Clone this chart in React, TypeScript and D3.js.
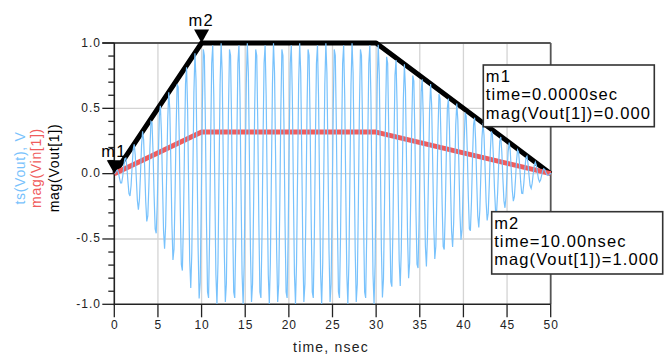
import React from "react";
import * as d3 from "d3";

// ---- data ----
const envTime = [0, 10, 30, 50]; // nsec
const voutMag = [0, 1, 1, 0]; // mag(Vout[1])
const vinMag = [0, 0.318, 0.318, 0]; // mag(Vin[1])
const carrierGHz = 1; // ts(Vout) carrier frequency
const sampleStep = 0.12; // nsec, transient time step

const xTicks = [0, 5, 10, 15, 20, 25, 30, 35, 40, 45, 50];
const yTicks = [-1, -0.5, 0, 0.5, 1];
const yMinor = d3.range(-10, 11).map((i) => i / 10);
const yTickLabels = ["-1.0", "-0.5", "0.0", "0.5", "1.0"];

const markers = [
  { name: "m1", time: 0, value: 0 },
  { name: "m2", time: 10, value: 1 },
];
const m1Lines = ["m1", "time=0.0000sec", "mag(Vout[1])=0.000"];
const m2Lines = ["m2", "time=10.00nsec", "mag(Vout[1])=1.000"];

const W = 665;
const H = 362;
const L = 114.3, R = 550.7, T = 43, B = 304.3;
const FONT = "'Liberation Sans', Arial, sans-serif";
const BLUE = "#78c2fc";
const RED = "#f05c5c";

export default function App() {
  const x = d3.scaleLinear().domain([0, 50]).range([L, R]);
  const y = d3.scaleLinear().domain([-1, 1]).range([B, T]);

  const envV = d3.scaleLinear().domain(envTime).range(voutMag);
  const samples = d3.range(0, 50 + sampleStep / 2, sampleStep).map((t) => ({
    t,
    v: envV(t) * Math.sin(2 * Math.PI * carrierGHz * t),
  }));

  const line = d3
    .line<{ t: number; v: number }>()
    .x((d) => x(d.t))
    .y((d) => y(d.v));

  const voutPts = envTime.map((t, i) => ({ t, v: voutMag[i] }));
  const vinPts = envTime.map((t, i) => ({ t, v: vinMag[i] }));

  const box = (
    lines: string[],
    bx: number,
    by: number,
    bw: number,
    bh: number
  ) => (
    <g>
      <rect x={bx} y={by} width={bw} height={bh} fill="white" stroke="#333" strokeWidth={1.6} />
      {lines.map((s, i) => (
        <text
          key={i}
          x={bx + 2.5}
          y={by + 17 + i * 18.3}
          fontSize={16.5}
          letterSpacing={1.1}
          fontFamily={FONT}
          fill="#000"
        >
          {s}
        </text>
      ))}
    </g>
  );

  return (
    <svg
      width={W}
      height={H}
      style={{ position: "absolute", left: 0, top: 0, background: "#fff" }}
    >
      <rect x={0} y={0} width={W} height={H} fill="#fff" />
      {/* grid */}
      {xTicks.slice(1, -1).map((t) => (
        <line key={"gx" + t} x1={x(t)} x2={x(t)} y1={T} y2={B} stroke="#d4d4d4" strokeWidth={1.3} />
      ))}
      {yTicks.slice(1, -1).map((t) => (
        <line key={"gy" + t} x1={L} x2={R} y1={y(t)} y2={y(t)} stroke="#d4d4d4" strokeWidth={1.3} />
      ))}
      {/* frame top/right */}
      <line x1={L - 12} x2={R} y1={T} y2={T} stroke="#555" strokeWidth={1.8} />
      <line x1={R} x2={R} y1={T} y2={B} stroke="#555" strokeWidth={1.8} />
      {/* left axis */}
      <line x1={L} x2={L} y1={T} y2={B + 1} stroke="#222" strokeWidth={1.6} />
      {yMinor.map((t, i) => (
        <line
          key={"yt" + i}
          x1={L - (i % 5 === 0 ? 12 : 6)}
          x2={L}
          y1={y(t)}
          y2={y(t)}
          stroke="#222"
          strokeWidth={1.3}
        />
      ))}
      {yTicks.map((t, i) => (
        <text
          key={"yl" + t}
          x={101}
          y={y(t) + 3.5}
          textAnchor="end"
          fontSize={12}
          letterSpacing={1}
          fontFamily={FONT}
          fill="#222"
        >
          {yTickLabels[i]}
        </text>
      ))}
      {/* bottom axis */}
      <line x1={L} x2={R} y1={B} y2={B} stroke="#222" strokeWidth={1.6} />
      {xTicks.map((t) => (
        <g key={"xt" + t}>
          <line x1={x(t)} x2={x(t)} y1={B} y2={B + 13} stroke="#222" strokeWidth={1.3} />
          <text
            x={x(t) + 0.5}
            y={328.5}
            textAnchor="middle"
            fontSize={12}
            letterSpacing={1}
            fontFamily={FONT}
            fill="#222"
          >
            {t}
          </text>
        </g>
      ))}
      <text
        x={331}
        y={352}
        textAnchor="middle"
        fontSize={14}
        letterSpacing={1.2}
        fontFamily={FONT}
        fill="#222"
      >
        time, nsec
      </text>
      {/* y titles */}
      <g transform="translate(25,168) rotate(-90)">
        <text textAnchor="middle" fontSize={14} letterSpacing={0.7} fontFamily={FONT} fill={BLUE}>
          ts(Vout), V
        </text>
      </g>
      <g transform="translate(41,168) rotate(-90)">
        <text textAnchor="middle" fontSize={14} letterSpacing={0.7} fontFamily={FONT} fill={RED}>
          mag(Vin[1])
        </text>
      </g>
      <g transform="translate(59,168) rotate(-90)">
        <text textAnchor="middle" fontSize={14} letterSpacing={0.7} fontFamily={FONT} fill="#000">
          mag(Vout[1])
        </text>
      </g>
      {/* traces */}
      <path d={line(voutPts) || ""} fill="none" stroke="#000" strokeWidth={5} strokeLinejoin="round" />
      <path d={line(vinPts) || ""} fill="none" stroke={RED} strokeWidth={5} strokeLinejoin="round" />
      <path d={line(samples) || ""} fill="none" stroke={BLUE} strokeWidth={1.2} />
      {/* markers */}
      {markers.map((m) => {
        const px = x(m.time);
        const py = y(m.value);
        return (
          <g key={m.name}>
            <text x={px - 13} y={py - 17} fontSize={16.5} letterSpacing={1.1} fontFamily={FONT} fill="#000">
              {m.name}
            </text>
            <path
              d={`M${px - 7.5},${py - 13.5}L${px + 7.5},${py - 13.5}L${px},${py}Z`}
              fill="#000"
            />
          </g>
        );
      })}
      {box(m1Lines, 483.3, 65, 171, 61.7)}
      {box(m2Lines, 491.7, 211.7, 171, 62.3)}
    </svg>
  );
}
